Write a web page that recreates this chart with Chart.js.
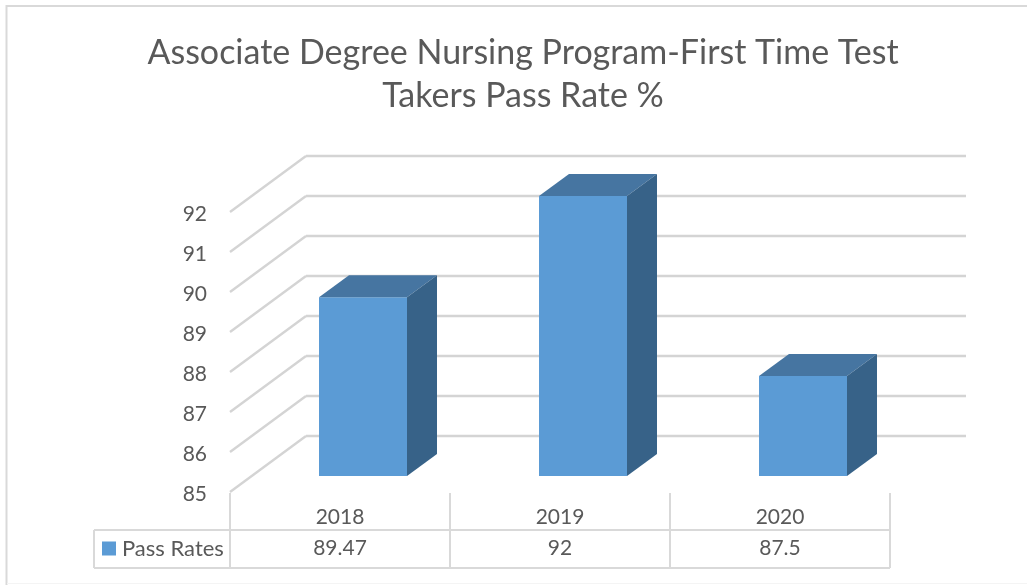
<!DOCTYPE html>
<html>
<head>
<meta charset="utf-8">
<style>
  html, body { margin: 0; padding: 0; background: #fff; }
  #wrap { width: 1027px; height: 585px; }
</style>
<script src="https://cdn.jsdelivr.net/npm/chart.js@4"></script>
</head>
<body>
<div id="wrap"><canvas id="chart" width="1027" height="585"></canvas></div>
<script>
const titleLines = ['Associate Degree Nursing Program-First Time Test', 'Takers Pass Rate %'];
const years = ['2018', '2019', '2020'];
const seriesName = 'Pass Rates';
const passRates = [89.47, 92, 87.5];

const FONT = 'Lato, Carlito, sans-serif';
const TEXT = '#595959';
const LINE = '#d9d9d9';

// 3d look: the wall sits behind the axis plane, the bars stand in between
const wall = { dx: 76, dy: -56 };
const barPlane = { dx: 23, dy: -16 };
const barDepth = { dx: 30, dy: -22 };

function seg(ctx, x1, y1, x2, y2) {
  ctx.beginPath();
  ctx.moveTo(x1, y1);
  ctx.lineTo(x2, y2);
  ctx.stroke();
}

function poly(ctx, pts, color) {
  ctx.fillStyle = color;
  ctx.beginPath();
  pts.forEach((p, i) => i ? ctx.lineTo(p[0], p[1]) : ctx.moveTo(p[0], p[1]));
  ctx.closePath();
  ctx.fill();
}

const frame3d = {
  id: 'frame3d',
  // the title is centred on the whole picture, not on the plot
  afterLayout(chart) {
    chart.titleBlock.left = 0;
    chart.titleBlock.right = 1046;
  },
  beforeDraw(chart) {
    const ctx = chart.ctx;
    ctx.save();
    ctx.strokeStyle = LINE;
    ctx.lineWidth = 2;
    seg(ctx, 6.5, 5, 6.5, 585);
    seg(ctx, 6, 6, 1027, 6);
    ctx.strokeStyle = '#f4f4f4';
    ctx.lineWidth = 1;
    seg(ctx, 7, 583.5, 1027, 583.5);
    ctx.restore();
  },
  beforeDatasetsDraw(chart) {
    const ctx = chart.ctx;
    const { left, right } = chart.chartArea;
    const yScale = chart.scales.y;
    ctx.save();
    ctx.strokeStyle = '#d4d4d4';
    ctx.lineWidth = 2.4;
    yScale.ticks.forEach((t, i) => {
      const y = Math.round(yScale.getPixelForTick(i));
      seg(ctx, left, y, left + wall.dx, y + wall.dy);
      seg(ctx, left + wall.dx, y + wall.dy, right + wall.dx, y + wall.dy);
    });
    ctx.restore();
    ctx.save();
    ctx.translate(barPlane.dx, barPlane.dy);
  },
  afterDatasetsDraw(chart) {
    const ctx = chart.ctx;
    chart.getDatasetMeta(0).data.forEach(bar => {
      const l = bar.x - bar.width / 2, r = bar.x + bar.width / 2;
      const d = barDepth;
      poly(ctx, [[l, bar.y], [r, bar.y], [r + d.dx, bar.y + d.dy], [l + d.dx, bar.y + d.dy]], '#4675a1');
      poly(ctx, [[r, bar.y], [r + d.dx, bar.y + d.dy], [r + d.dx, bar.base + d.dy], [r, bar.base]], '#376288');
    });
    ctx.restore();
  },
  // data table under the plot
  afterDraw(chart) {
    const ctx = chart.ctx;
    const xScale = chart.scales.x;
    const { left, right, bottom } = chart.chartArea;
    const rowTop = bottom + 38, rowBottom = bottom + 76, tableLeft = 94;
    const colW = (right - left) / years.length;
    ctx.save();
    ctx.strokeStyle = LINE;
    ctx.lineWidth = 2;
    seg(ctx, tableLeft, rowTop, right, rowTop);
    seg(ctx, tableLeft, rowBottom, right, rowBottom);
    seg(ctx, tableLeft, rowTop, tableLeft, rowBottom);
    for (let i = 0; i <= years.length; i++) {
      seg(ctx, left + i * colW, bottom + 1, left + i * colW, rowBottom);
    }
    const midY = (rowTop + rowBottom) / 2 - 0.5;
    ctx.fillStyle = '#5b9bd5';
    ctx.fillRect(102, midY - 7, 14, 14);
    ctx.fillStyle = TEXT;
    ctx.textBaseline = 'middle';
    ctx.textAlign = 'left';
    ctx.font = '22px ' + FONT;
    ctx.fillText(seriesName, 122, midY);
    ctx.font = '21px ' + FONT;
    ctx.textAlign = 'center';
    passRates.forEach((v, i) => ctx.fillText(String(v), xScale.getPixelForTick(i), midY));
    ctx.restore();
  }
};

new Chart(document.getElementById('chart'), {
  type: 'bar',
  data: {
    labels: years,
    datasets: [{
      label: seriesName,
      data: passRates,
      base: 85,
      backgroundColor: '#5b9bd5',
      barPercentage: 0.4,
      categoryPercentage: 1,
      clip: false
    }]
  },
  options: {
    responsive: false,
    animation: false,
    layout: { padding: { left: 0, right: 137, top: 0, bottom: 0 } },
    plugins: {
      legend: { display: false },
      tooltip: { enabled: false },
      title: {
        display: true,
        text: titleLines,
        color: TEXT,
        font: { family: FONT, size: 34, weight: 'normal', lineHeight: 1.265 },
        padding: { top: 32, bottom: 94 }
      }
    },
    scales: {
      x: {
        grid: { display: false, drawTicks: false },
        border: { display: false },
        ticks: { color: TEXT, font: { family: FONT, size: 21 }, padding: 13 },
        afterFit: s => { s.height = 93; }
      },
      y: {
        min: 85,
        max: 92,
        grid: { display: false, drawTicks: false },
        border: { display: false },
        ticks: { stepSize: 1, color: TEXT, font: { family: FONT, size: 21 }, padding: 23, labelOffset: 2 },
        afterFit: s => { s.width = 230; }
      }
    }
  },
  plugins: [frame3d]
});
</script>
</body>
</html>
